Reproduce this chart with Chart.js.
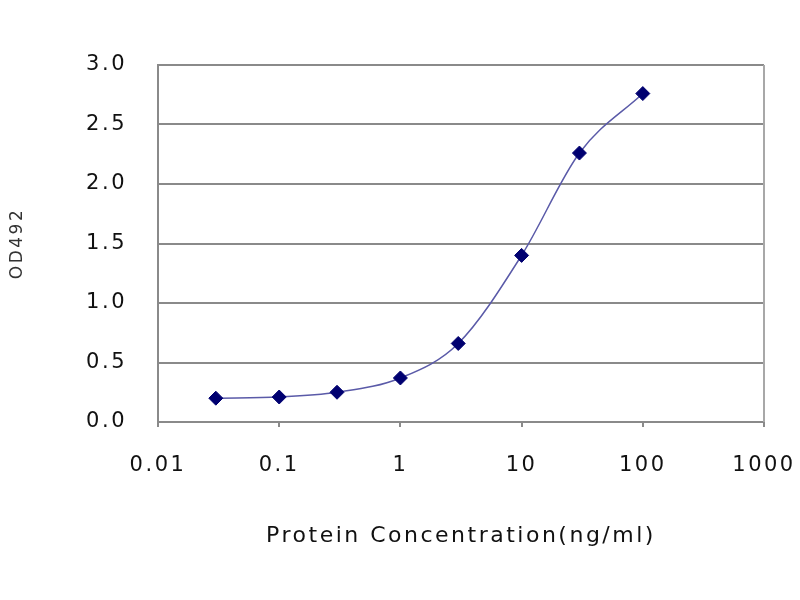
<!DOCTYPE html>
<html>
<head>
<meta charset="utf-8">
<script src="https://cdn.jsdelivr.net/npm/chart.js@4/dist/chart.umd.min.js"></script>
<style>
  html, body { margin: 0; padding: 0; background: #ffffff; }
  #wrap { width: 800px; height: 600px; }
</style>
</head>
<body>
<div id="wrap"><canvas id="c" width="800" height="600"></canvas></div>
<script>
// ---- data ----
const concentrations = [0.03, 0.1, 0.3, 1, 3, 10, 30, 100];
const odValues = [0.20, 0.21, 0.25, 0.37, 0.66, 1.40, 2.26, 2.76];
const xTickValues = [0.01, 0.1, 1, 10, 100, 1000];
const xTickLabels = ['0.01', '0.1', '1', '10', '100', '1000'];
const xTitle = 'Protein Concentration(ng/ml)';
const yTitle = 'OD492';

const points = concentrations.map((c, i) => ({ x: c, y: odValues[i] }));

const spacingPlugin = {
  id: 'spacing',
  beforeLayout(chart) { chart.ctx.letterSpacing = '2.5px'; },
  beforeDraw(chart) { chart.ctx.letterSpacing = '2.5px'; }
};
const borderPlugin = {
  id: 'plotBorder',
  afterDraw(chart) {
    const a = chart.chartArea, ctx = chart.ctx;
    ctx.save();
    ctx.strokeStyle = '#a8a8a8';
    ctx.lineWidth = 2;
    ctx.beginPath();
    ctx.moveTo(a.right, a.top);
    ctx.lineTo(a.right, a.bottom);
    ctx.stroke();
    ctx.restore();
  }
};

new Chart(document.getElementById('c'), {
  type: 'scatter',
  data: {
    datasets: [{
      data: points,
      showLine: true,
      borderColor: '#5a5aa8',
      borderWidth: 1.5,
      tension: 0.4,
      cubicInterpolationMode: 'monotone',
      pointStyle: 'rectRot',
      pointRadius: 7,
      pointBackgroundColor: '#000070',
      pointBorderColor: '#000070',
      pointBorderWidth: 1
    }]
  },
  plugins: [spacingPlugin, borderPlugin],
  options: {
    responsive: false,
    animation: false,
    devicePixelRatio: 1,
    layout: { padding: { top: 65, right: 36, bottom: 40, left: 0 } },
    plugins: { legend: { display: false }, tooltip: { enabled: false } },
    scales: {
      x: {
        type: 'logarithmic',
        min: 0.01,
        max: 1000,
        afterBuildTicks(scale) { scale.ticks = xTickValues.map(v => ({ value: v })); },
        afterFit(scale) { scale.height = 138; scale.paddingLeft = 0; scale.paddingRight = 0; },
        ticks: {
          autoSkip: false,
          maxRotation: 0,
          padding: 26,
          color: '#111111',
          font: { family: 'DejaVu Sans', size: 21 },
          callback(v) { const i = xTickValues.indexOf(v); return i >= 0 ? xTickLabels[i] : ''; }
        },
        grid: { drawOnChartArea: false, drawTicks: true, tickLength: 5, color: '#8a8a8a', lineWidth: 2 },
        border: { color: '#8a8a8a', width: 2 },
        title: {
          display: true, text: xTitle, color: '#111111',
          font: { family: 'DejaVu Sans', size: 22 },
          padding: { top: 0, bottom: 11 }
        }
      },
      y: {
        min: 0,
        max: 3,
        afterFit(scale) { scale.width = 158; },
        ticks: {
          stepSize: 0.5,
          padding: 31,
          color: '#111111',
          font: { family: 'DejaVu Sans', size: 21 },
          callback(v) { return v.toFixed(1); }
        },
        grid: { drawTicks: false, color: '#8a8a8a', lineWidth: 2 },
        border: { color: '#8a8a8a', width: 2 },
        title: {
          display: true, text: yTitle, color: '#333333',
          font: { family: 'DejaVu Sans', size: 17 },
          padding: { top: 7, bottom: 0 }
        }
      }
    }
  }
});
</script>
</body>
</html>
